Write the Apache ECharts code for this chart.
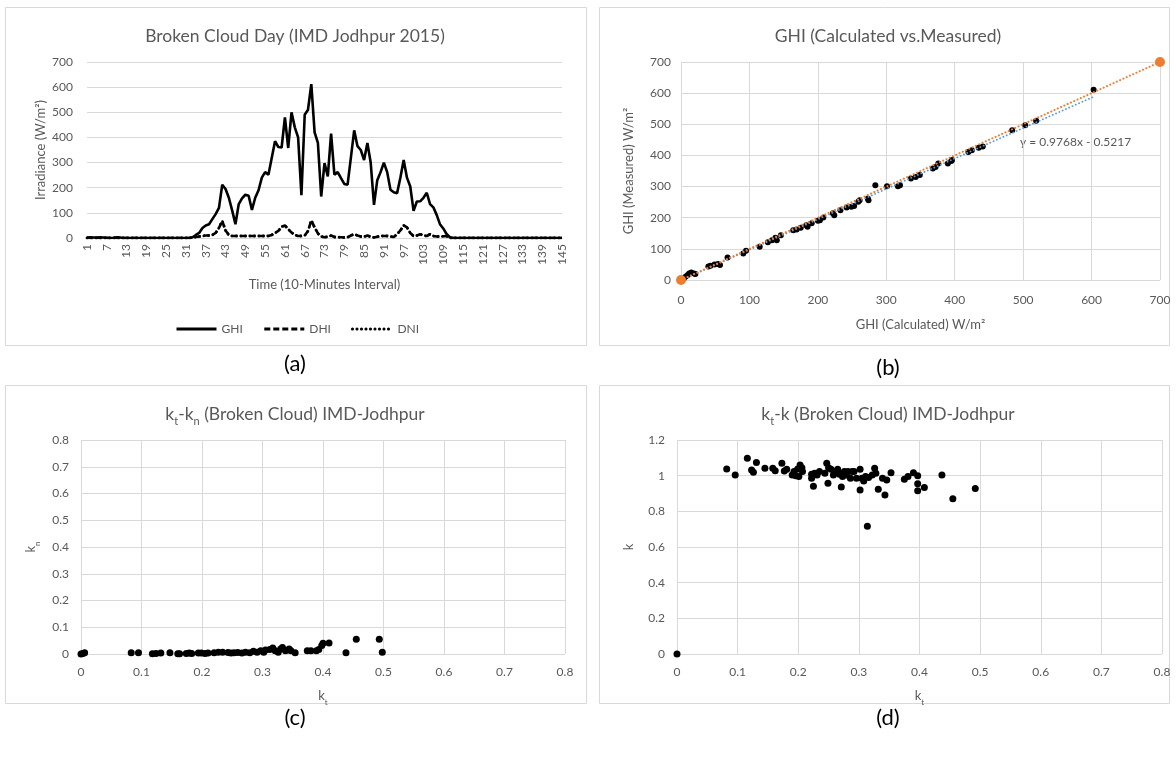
<!DOCTYPE html>
<html><head><meta charset="utf-8">
<script src="https://cdn.jsdelivr.net/npm/echarts@6/dist/echarts.min.js"></script>
<style>html,body{margin:0;padding:0;background:#fff}#c{width:1176px;height:761px}</style>
</head><body><div id="c"></div><script>
// ---------- DATA ----------
const timeCategories = Array.from({length:145},(_, i)=>String(i+1));
const ghi = [2,3,2,2,3,2,1,0,1,3,2,0,
 0,0,0,0,0,0,0,0,0,0,0,0,0,0,0,0,0,0,0,0,
 3,12,20,40,50,55,75,95,120,212,
 195,160,110,55,135,158,172,168,112,160,
 190,240,262,252,318,385,362,360,480,358,
 500,440,400,170,490,510,612,420,378,165,
 298,245,415,252,262,238,215,212,320,428,
 365,350,310,378,300,132,230,262,300,262,
 192,182,178,240,310,240,205,108,145,146,
 160,180,135,122,92,55,38,16,3,
 0,0,0,0,0,0,0,0,0,0,0,0,0,0,0,0,0,0,0,0,0,0,0,0,0,0,0,0,0,0,0,0,0,0];
const dni = [0,0,0,0,0,0,0,0,0,0,0,0,
 0,0,0,0,0,0,0,0,0,0,0,0,0,0,0,0,0,0,0,0,
 2,4,6,8,10,10,12,20,40,68,
 30,12,8,8,8,8,8,8,8,8,
 8,8,8,8,12,20,28,45,50,35,
 22,12,8,8,10,28,70,42,18,6,
 3,5,10,4,3,3,2,3,10,15,
 10,6,5,10,5,2,5,8,8,8,
 6,4,15,30,50,42,20,8,10,15,
 10,8,15,8,6,6,7,8,0,
 0,0,0,0,0,0,0,0,0,0,0,0,0,0,0,0,0,0,0,0,0,0,0,0,0,0,0,0,0,0,0,0,0,0];
const dhi = [0,0,0,0,0,0,0,0,0,0,0,0,
 0,0,0,0,0,0,0,0,0,0,0,0,0,0,0,0,0,0,0,0,
 2,4,6,8,10,10,12,20,40,68,
 30,12,8,8,8,8,8,8,8,8,
 8,8,8,8,12,20,28,45,50,35,
 22,12,8,8,10,28,70,42,18,6,
 3,5,10,4,3,3,2,3,10,15,
 10,6,5,10,5,2,5,8,8,8,
 6,4,15,30,50,42,20,8,10,15,
 10,8,15,8,6,6,7,8,0,
 0,0,0,0,0,0,0,0,0,0,0,0,0,0,0,0,0,0,0,0,0,0,0,0,0,0,0,0,0,0,0,0,0,0];
const ghiCalcMeasured = [[0,0],[4,5],[7,11],[10,16],[12,21],[15,24],[19,21],[21,19],
 [40,43],[43,46],[49,50],[54,51],[57,48],[68,72],[91,85],[95,94],[115,107],
 [127,121],[133,128],[138,136],[140,128],[146,144],[164,160],[169,162],[175,168],
 [183,176],[185,171],[191,182],[200,190],[203,192],[208,201],[222,214],[224,208],
 [233,224],[242,233],[249,235],[253,238],[259,251],[261,256],[273,262],[274,256],
 [284,304],[301,301],[317,301],[320,304],[336,326],[343,331],[349,337],[368,358],
 [372,363],[376,374],[390,374],[395,382],[396,385],[420,411],[425,417],[435,425],
 [441,429],[484,481],[503,497],[519,511],[603,611]];
const refPoints = [[0,0],[700,700]];
const trendSlope = 0.9768;
const trendIntercept = -0.5217;
const trendXRange = [0, 603];
const ktKn = [[0,0],[0.003,0.002],[0.006,0.005],[0.083,0.005],[0.095,0.005],
 [0.118,0.001],[0.124,0.002],[0.132,0.004],[0.147,0.005],[0.16,0.001],[0.163,0.001],
 [0.174,0.002],[0.179,0.004],[0.183,0.002],[0.194,0.004],[0.199,0.004],[0.205,0.002],
 [0.21,0.004],[0.22,0.005],[0.227,0.007],[0.234,0.007],[0.243,0.006],[0.248,0.004],
 [0.253,0.005],[0.259,0.006],[0.266,0.004],[0.272,0.007],[0.279,0.005],[0.285,0.01],
 [0.291,0.007],[0.297,0.012],[0.302,0.007],[0.305,0.015],[0.312,0.017],[0.317,0.022],
 [0.321,0.012],[0.326,0.007],[0.33,0.019],[0.333,0.024],[0.338,0.012],[0.344,0.019],
 [0.347,0.012],[0.354,0.005],[0.374,0.012],[0.38,0.012],[0.389,0.012],[0.393,0.017],
 [0.398,0.032],[0.4,0.04],[0.41,0.041],[0.438,0.005],[0.455,0.055],[0.493,0.055],[0.498,0.007]];
const ktK = [[0,0],[0.082,1.038],[0.096,1.004],[0.116,1.097],[0.123,1.032],[0.126,1.019],
 [0.131,1.074],[0.145,1.041],[0.158,1.041],[0.162,1.028],[0.173,1.069],[0.177,1.026],
 [0.181,1.036],[0.19,1.004],[0.193,1.023],[0.196,0.999],[0.199,1.038],[0.201,0.995],
 [0.203,1.06],[0.206,1.045],[0.207,1.023],[0.222,1.008],[0.222,0.985],[0.225,0.941],
 [0.227,1.013],[0.231,1.004],[0.235,1.023],[0.244,1.013],[0.247,1.069],[0.249,0.957],
 [0.25,1.045],[0.254,1.036],[0.258,1.004],[0.262,1.023],[0.265,1.036],[0.268,1.008],
 [0.271,0.937],[0.273,0.995],[0.276,1.023],[0.279,1.004],[0.282,1.023],[0.286,0.985],
 [0.289,1.023],[0.292,1.023],[0.296,0.985],[0.302,1.036],[0.302,0.92],[0.305,0.985],
 [0.308,0.97],[0.311,0.995],[0.314,0.717],[0.316,0.99],[0.322,1.004],[0.326,1.041],
 [0.328,1.013],[0.332,0.924],[0.339,0.985],[0.343,0.892],[0.346,0.976],[0.353,1.017],
 [0.375,0.98],[0.381,0.995],[0.39,1.017],[0.397,0.999],[0.397,0.954],[0.397,0.915],
 [0.408,0.933],[0.437,1.004],[0.455,0.87],[0.492,0.928]];
// ---------- STYLE ----------
const F = 'Lato, "Open Sans", sans-serif';
const G = '#595959';
const GRID = '#d9d9d9';
const trendData = trendXRange.map(x => [x, trendSlope * x + trendIntercept]);

function richT(size){
  const s = Math.round(size*0.62);
  return {n:{fontSize:size,color:G,fontFamily:F,fontWeight:'normal',lineHeight:size+7},
          s:{fontSize:s,color:G,fontFamily:F,fontWeight:'normal',lineHeight:s+2,verticalAlign:'bottom'}};
}
const chart = echarts.init(document.getElementById('c'));
const lbl = {color:G,fontSize:12,fontFamily:F};
function valAxis(idx,min,max,interval,extra){
  return Object.assign({type:'value',gridIndex:idx,min,max,interval,
    axisLine:{show:false},axisTick:{show:false},
    splitLine:{show:true,lineStyle:{color:GRID,width:1}},
    axisLabel:Object.assign({},lbl)},extra||{});
}
const subTitle = {fontSize:22,color:'#000',fontWeight:'normal',fontFamily:F};
const mainTitle = {fontSize:17.5,color:G,fontWeight:'normal',fontFamily:F};
const option = {
  animation:false,
  backgroundColor:'#fff',
  graphic:[
    {type:'rect',shape:{x:5.5,y:7.5,width:581,height:338},style:{fill:'none',stroke:GRID,lineWidth:1}},
    {type:'rect',shape:{x:599.5,y:7.5,width:570,height:338},style:{fill:'none',stroke:GRID,lineWidth:1}},
    {type:'rect',shape:{x:5.5,y:385.5,width:581,height:318},style:{fill:'none',stroke:GRID,lineWidth:1}},
    {type:'rect',shape:{x:599.5,y:385.5,width:570,height:318},style:{fill:'none',stroke:GRID,lineWidth:1}},
    {type:'text',left:1020,top:136,style:{text:'y = 0.9768x - 0.5217',fill:G,fontSize:12,fontFamily:F}}
  ],
  title:[
    {text:'Broken Cloud Day (IMD Jodhpur 2015)',left:290,top:22,textAlign:'center',textStyle:mainTitle},
    {text:'GHI (Calculated vs.Measured)',left:883,top:22,textAlign:'center',textStyle:mainTitle},
    {text:'{n|k}{s|t}{n|-k}{s|n}{n| (Broken Cloud) IMD-Jodhpur}',left:290,top:397,textAlign:'center',textStyle:{fontWeight:'normal',rich:richT(17.5)}},
    {text:'{n|k}{s|t}{n|-k (Broken Cloud) IMD-Jodhpur}',left:883,top:397,textAlign:'center',textStyle:{fontWeight:'normal',rich:richT(17.5)}},
    {text:'(a)',left:290,top:348,textAlign:'center',textStyle:subTitle},
    {text:'(b)',left:883,top:352,textAlign:'center',textStyle:subTitle},
    {text:'(c)',left:290,top:702,textAlign:'center',textStyle:subTitle},
    {text:'(d)',left:883,top:702,textAlign:'center',textStyle:subTitle}
  ],
  legend:{data:['GHI','DHI','DNI'],top:318,left:170,itemWidth:40,itemHeight:12,itemGap:20,
    itemStyle:{opacity:0},lineStyle:{width:3},
    textStyle:{color:G,fontSize:12,fontFamily:F}},
  grid:[
    {left:87,top:62,width:475,height:176},
    {left:681,top:62,width:479,height:218},
    {left:81,top:440,width:484,height:214},
    {left:677,top:440,width:485,height:214}
  ],
  xAxis:[
    {type:'category',gridIndex:0,data:timeCategories,boundaryGap:false,
     axisLine:{show:true,lineStyle:{color:GRID}},axisTick:{show:false},
     axisLabel:Object.assign({},lbl,{interval:5,rotate:90,margin:6}),
     name:'Time (10-Minutes Interval)',nameLocation:'middle',nameGap:40,
     nameTextStyle:{color:G,fontSize:13,fontFamily:F}},
    valAxis(1,0,700,100,{name:'GHI (Calculated) W/m²',nameLocation:'middle',nameGap:38,
     nameTextStyle:{color:G,fontSize:13,fontFamily:F},axisLabel:Object.assign({},lbl,{margin:14})}),
    valAxis(2,0,0.8,0.1,{name:'{n|k}{s|t}',nameLocation:'middle',nameGap:32,
     nameTextStyle:{rich:richT(13)},axisLabel:Object.assign({},lbl,{margin:12})}),
    valAxis(3,0,0.8,0.1,{name:'{n|k}{s|t}',nameLocation:'middle',nameGap:32,
     nameTextStyle:{rich:richT(13)},axisLabel:Object.assign({},lbl,{margin:12})})
  ],
  yAxis:[
    valAxis(0,0,700,100,{name:'Irradiance (W/m²)',nameLocation:'middle',nameGap:40,
     nameTextStyle:{color:G,fontSize:13,fontFamily:F},axisLabel:Object.assign({},lbl,{margin:14})}),
    valAxis(1,0,700,100,{name:'GHI (Measured) W/m²',nameLocation:'middle',nameGap:46,
     nameTextStyle:{color:G,fontSize:13,fontFamily:F},axisLabel:Object.assign({},lbl,{margin:10})}),
    valAxis(2,0,0.8,0.1,{name:'{n|k}{s|n}',nameLocation:'middle',nameGap:40,
     nameTextStyle:{rich:richT(13)},axisLabel:Object.assign({},lbl,{margin:12})}),
    valAxis(3,0,1.2,0.2,{name:'k',nameLocation:'middle',nameGap:42,
     nameTextStyle:{color:G,fontSize:13,fontFamily:F},axisLabel:Object.assign({},lbl,{margin:12})})
  ],
  series:[
    {name:'GHI',type:'line',xAxisIndex:0,yAxisIndex:0,data:ghi,symbol:'none',z:4,
     lineStyle:{color:'#000',width:2.6},itemStyle:{color:'#000'}},
    {name:'DHI',type:'line',xAxisIndex:0,yAxisIndex:0,data:dhi,symbol:'none',z:3,
     lineStyle:{color:'#000',width:2.6,type:[6,3]},itemStyle:{color:'#000'}},
    {name:'DNI',type:'line',xAxisIndex:0,yAxisIndex:0,data:dni,symbol:'none',z:3,
     lineStyle:{color:'#000',width:2.8,type:[0.1,4.4],cap:'round'},itemStyle:{color:'#000'}},
    {name:'b-points',type:'scatter',xAxisIndex:1,yAxisIndex:1,data:ghiCalcMeasured,symbolSize:6,z:3,
     itemStyle:{color:'#000',opacity:1}},
    {name:'b-trend',type:'line',xAxisIndex:1,yAxisIndex:1,data:trendData,symbol:'none',z:4,
     lineStyle:{color:'#5B9BD5',width:1.8,type:[0.1,3.5],cap:'round'}},
    {name:'b-ref',type:'line',xAxisIndex:1,yAxisIndex:1,data:refPoints,symbol:'circle',symbolSize:10,z:5,
     lineStyle:{color:'#ED7D31',width:2,type:[0.1,3.5],cap:'round'},itemStyle:{color:'#ED7D31'}},
    {name:'c-points',type:'scatter',xAxisIndex:2,yAxisIndex:2,data:ktKn,symbolSize:7,itemStyle:{color:'#000',opacity:1}},
    {name:'d-points',type:'scatter',xAxisIndex:3,yAxisIndex:3,data:ktK,symbolSize:7,itemStyle:{color:'#000',opacity:1}}
  ]
};
chart.setOption(option);
</script></body></html>
